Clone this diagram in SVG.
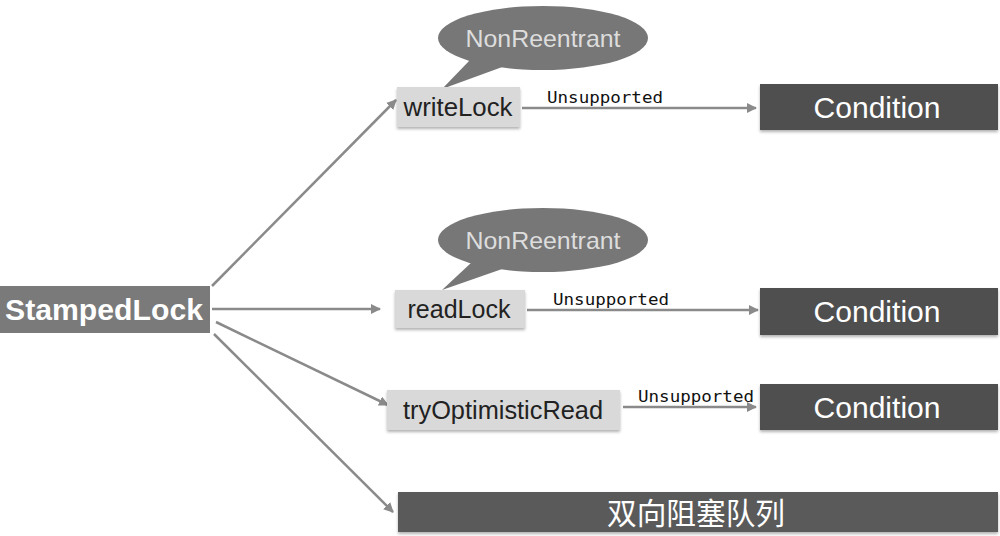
<svg xmlns="http://www.w3.org/2000/svg" width="1000" height="536" viewBox="0 0 1000 536">
<defs>
<marker id="ah" markerWidth="10" markerHeight="10" refX="9" refY="5" orient="auto" markerUnits="userSpaceOnUse" viewBox="0 0 10 10">
<path d="M0,0 L10,5 L0,10 z" fill="#8a8a8a"/>
</marker>
<filter id="sh" x="-5%" y="-10%" width="110%" height="130%">
<feDropShadow dx="0" dy="2" stdDeviation="1.5" flood-color="#000" flood-opacity="0.3"/>
</filter>
</defs>
<style>
.conn{stroke:#8a8a8a;stroke-width:2.5;fill:none;marker-end:url(#ah)}
.light{fill:#d9d9d9;filter:url(#sh)}
.dark{fill:#4f4f4f;filter:url(#sh)}
.bubble{fill:#777}
.lt{font-family:"Liberation Sans",Arial,sans-serif;font-size:25px;fill:#222}
.dt{font-family:"Liberation Sans",Arial,sans-serif;font-size:29px;fill:#fff}
.bt{font-family:"Liberation Sans",Arial,sans-serif;font-size:24px;fill:#ddd}
.lab{font-family:"DejaVu Sans Mono",monospace;font-size:16px;fill:#111}
</style>
<rect width="1000" height="536" fill="#fff"/>
<g id="connectors">
<line class="conn" x1="212" y1="286" x2="396" y2="100"/>
<line class="conn" x1="212" y1="309" x2="380" y2="309"/>
<line class="conn" x1="216" y1="322" x2="388" y2="405"/>
<line class="conn" x1="214" y1="334" x2="393" y2="512"/>
<line class="conn" x1="522" y1="108" x2="756" y2="108"/>
<text class="lab" x="547" y="103" textLength="116" lengthAdjust="spacingAndGlyphs">Unsupported</text>
<line class="conn" x1="527" y1="310" x2="758" y2="310"/>
<text class="lab" x="553" y="305" textLength="116" lengthAdjust="spacingAndGlyphs">Unsupported</text>
<line class="conn" x1="623" y1="407" x2="756" y2="407"/>
<text class="lab" x="638" y="402" textLength="116" lengthAdjust="spacingAndGlyphs">Unsupported</text>
</g>
<g id="stampedlock">
<rect x="0" y="286" width="210" height="47" fill="#7a7a7a"/>
<text x="104" y="320" text-anchor="middle" font-family="Liberation Sans,Arial,sans-serif" font-size="29" font-weight="bold" fill="#fff" textLength="198" lengthAdjust="spacingAndGlyphs">StampedLock</text>
</g>
<g id="bubble1">
<ellipse class="bubble" cx="543" cy="38" rx="105" ry="32"/>
<path class="bubble" d="M470,60 L442,89 L505,66 z"/>
<text class="bt" x="543" y="47" text-anchor="middle" textLength="155" lengthAdjust="spacingAndGlyphs">NonReentrant</text>
</g>
<g id="writeLock">
<rect class="light" x="397" y="87" width="123" height="40"/>
<text class="lt" x="458" y="116" text-anchor="middle" textLength="109" lengthAdjust="spacingAndGlyphs">writeLock</text>
</g>
<g id="condition1">
<rect class="dark" x="760" y="84" width="238" height="46"/>
<text class="dt" x="877" y="118" text-anchor="middle" textLength="127" lengthAdjust="spacingAndGlyphs">Condition</text>
</g>
<g id="bubble2">
<ellipse class="bubble" cx="543" cy="240" rx="105" ry="32"/>
<path class="bubble" d="M472,262 L442,290 L505,268 z"/>
<text class="bt" x="543" y="249" text-anchor="middle" textLength="155" lengthAdjust="spacingAndGlyphs">NonReentrant</text>
</g>
<g id="readLock">
<rect class="light" x="395" y="290" width="130" height="38"/>
<text class="lt" x="459" y="318" text-anchor="middle" textLength="103" lengthAdjust="spacingAndGlyphs">readLock</text>
</g>
<g id="condition2">
<rect class="dark" x="760" y="288" width="238" height="47"/>
<text class="dt" x="877" y="322" text-anchor="middle" textLength="127" lengthAdjust="spacingAndGlyphs">Condition</text>
</g>
<g id="tryOptimisticRead">
<rect class="light" x="387" y="390" width="233" height="40"/>
<text class="lt" x="503" y="419" text-anchor="middle" textLength="200" lengthAdjust="spacingAndGlyphs">tryOptimisticRead</text>
</g>
<g id="condition3">
<rect class="dark" x="760" y="384" width="238" height="46"/>
<text class="dt" x="877" y="418" text-anchor="middle" textLength="127" lengthAdjust="spacingAndGlyphs">Condition</text>
</g>
<g id="queue">
<rect x="398" y="492" width="600" height="40" fill="#5a5a5a" filter="url(#sh)"/>
<text x="696" y="524" text-anchor="middle" font-family="Liberation Sans,'Noto Sans CJK SC',sans-serif" font-size="30" fill="#fff" textLength="178" lengthAdjust="spacingAndGlyphs">双向阻塞队列</text>
</g>
</svg>
